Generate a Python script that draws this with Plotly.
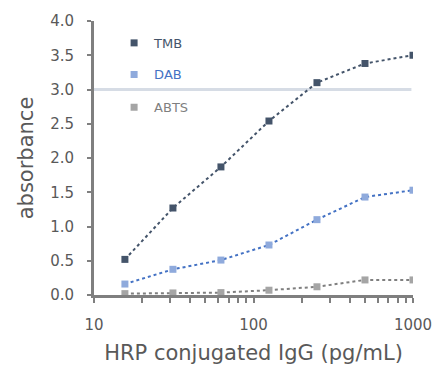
import plotly.graph_objects as go

conc = [15.625, 31.25, 62.5, 125, 250, 500, 1000]
tmb = [0.52, 1.27, 1.87, 2.54, 3.10, 3.38, 3.50]
dab = [0.16, 0.375, 0.51, 0.73, 1.10, 1.43, 1.53]
abts = [0.02, 0.03, 0.035, 0.07, 0.12, 0.22, 0.22]
series_names = ["TMB", "DAB", "ABTS"]
marker_colors = ["#44546A", "#8FAADC", "#A5A5A5"]
line_colors = ["#44546A", "#4472C4", "#7F7F7F"]
label_colors = ["#44546A", "#4472C4", "#7F7F7F"]
cutoff = 3.0
major_x = [10, 100, 1000]
minor_x = [20, 30, 40, 50, 60, 70, 80, 90, 200, 300, 400, 500, 600, 700, 800, 900]

FONT = "DejaVu Sans"
TXT = "#595959"
AX = "#7F7F7F"

fig = go.Figure()
legends = ["legend", "legend2", "legend3"]
for i, (name, ys) in enumerate(zip(series_names, [tmb, dab, abts])):
    fig.add_trace(go.Scatter(
        x=conc, y=ys, mode="lines", showlegend=False,
        line=dict(color=line_colors[i], width=2, dash="dot"),
        hoverinfo="skip"))
    fig.add_trace(go.Scatter(
        x=conc, y=ys, mode="markers",
        name=f"<span style='color:{label_colors[i]}'>{name}</span>",
        marker=dict(symbol="square", size=7, color=marker_colors[i]),
        legend=legends[i]))

fig.add_shape(type="line", xref="paper", x0=0, x1=0.995, yref="y", y0=cutoff, y1=cutoff,
              line=dict(color="#D6DCE5", width=3), layer="below")

leg_common = dict(font=dict(family=FONT, size=13), bgcolor="rgba(0,0,0,0)",
                  xanchor="left", yanchor="middle", itemwidth=30)
fig.update_layout(
    width=436, height=365,
    margin=dict(l=94, r=23, t=21, b=70),
    paper_bgcolor="white", plot_bgcolor="white",
    font=dict(family=FONT, color=TXT),
    legend=dict(x=0.063, y=0.92, **leg_common),
    legend2=dict(x=0.063, y=0.805, **leg_common),
    legend3=dict(x=0.063, y=0.685, **leg_common),
    xaxis=dict(
        type="log", range=[1, 3], tickvals=major_x,
        ticktext=[str(v) for v in major_x],
        showgrid=False, zeroline=False, automargin=False,
        showline=True, linecolor=AX, linewidth=3,
        ticks="outside", ticklen=5, tickcolor=AX, tickwidth=2,
        minor=dict(tickmode="array", tickvals=minor_x, ticks="outside", ticklen=5,
                   tickcolor=AX, tickwidth=2, showgrid=False),
        tickfont=dict(size=15, color=TXT), ticklabelstandoff=9,
        title=dict(text="HRP conjugated IgG (pg/mL)", font=dict(size=21, color=TXT), standoff=15),
    ),
    yaxis=dict(
        range=[0, 4], dtick=0.5, tickformat=".1f",
        showgrid=False, zeroline=False, automargin=False,
        showline=True, linecolor=AX, linewidth=3,
        ticks="outside", ticklen=4, tickcolor=AX, tickwidth=2,
        tickfont=dict(size=15, color=TXT), ticklabelstandoff=10,
        title=dict(text="absorbance", font=dict(size=21, color=TXT), standoff=11),
    ),
)

fig.write_html("out.html")
